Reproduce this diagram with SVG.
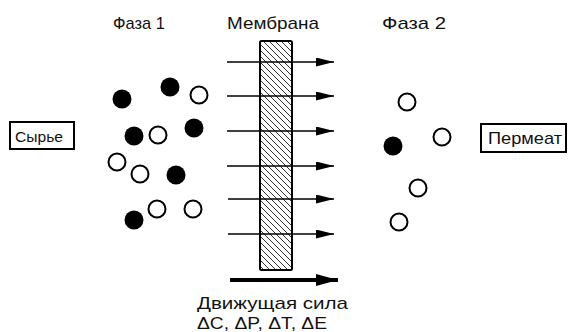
<svg xmlns="http://www.w3.org/2000/svg" width="568" height="332" viewBox="0 0 568 332">
<style>
text{font-family:"Liberation Sans","DejaVu Sans",sans-serif;fill:#111}
.lbl{font-size:17px}
.f{fill:#000}
.o{fill:#fff;stroke:#000;stroke-width:2}
.box{fill:#fff;stroke:#000;stroke-width:2}
.ar{stroke:#000;stroke-width:1.5;fill:none}
</style>
<defs>
<pattern id="hatch" patternUnits="userSpaceOnUse" width="6" height="6">
<path d="M-1,-1 L7,7 M-1,5 L1,7 M5,-1 L7,1" stroke="#333" stroke-width="1"/>
</pattern>
<marker id="ah" viewBox="0 0 18 9" refX="18" refY="4.5" markerWidth="18" markerHeight="9" markerUnits="userSpaceOnUse" orient="auto">
<path d="M0,0 L18,4.5 L0,9 Z" fill="#000"/>
</marker>
<marker id="ahb" viewBox="0 0 22 12" refX="22" refY="6" markerWidth="22" markerHeight="12" markerUnits="userSpaceOnUse" orient="auto">
<path d="M0,0 L22,6 L0,12 Z" fill="#000"/>
</marker>
</defs>
<rect width="568" height="332" fill="#fff"/>
<g id="titles">
<text class="lbl" x="113" y="29" textLength="52" lengthAdjust="spacingAndGlyphs">Фаза 1</text>
<text class="lbl" x="227" y="29" textLength="92" lengthAdjust="spacingAndGlyphs">Мембрана</text>
<text class="lbl" x="382" y="29" textLength="64" lengthAdjust="spacingAndGlyphs">Фаза 2</text>
</g>
<g id="membrane">
<rect x="260" y="41" width="32" height="229" rx="1.5" fill="url(#hatch)" stroke="#000" stroke-width="2"/>
</g>
<g id="connectors">
<line class="ar" x1="227" y1="62" x2="334" y2="62" marker-end="url(#ah)"/>
<line class="ar" x1="227" y1="96" x2="334" y2="96" marker-end="url(#ah)"/>
<line class="ar" x1="227" y1="131" x2="334" y2="131" marker-end="url(#ah)"/>
<line class="ar" x1="227" y1="166" x2="334" y2="166" marker-end="url(#ah)"/>
<line class="ar" x1="228" y1="199" x2="334" y2="199" marker-end="url(#ah)"/>
<line class="ar" x1="228" y1="234" x2="334" y2="234" marker-end="url(#ah)"/>
<line x1="230" y1="280" x2="338" y2="280" stroke="#000" stroke-width="4" marker-end="url(#ahb)"/>
</g>
<g id="phase1">
<circle class="f" cx="122" cy="99" r="9.5"/>
<circle class="f" cx="170" cy="87" r="9.5"/>
<circle class="o" cx="199" cy="95" r="8.5"/>
<circle class="f" cx="134" cy="136" r="9.5"/>
<circle class="o" cx="158" cy="135" r="8.5"/>
<circle class="f" cx="194" cy="128" r="9.5"/>
<circle class="o" cx="117" cy="162" r="8.5"/>
<circle class="o" cx="140" cy="174" r="8.5"/>
<circle class="f" cx="176" cy="175" r="9.5"/>
<circle class="o" cx="157" cy="209" r="8.5"/>
<circle class="o" cx="193" cy="209" r="8.5"/>
<circle class="f" cx="134" cy="220" r="9.5"/>
</g>
<g id="phase2">
<circle class="o" cx="407" cy="102" r="8.5"/>
<circle class="o" cx="442" cy="137" r="8.5"/>
<circle class="f" cx="393" cy="146" r="9.5"/>
<circle class="o" cx="418" cy="188" r="8.5"/>
<circle class="o" cx="399" cy="222" r="8.5"/>
</g>
<g id="feed">
<rect class="box" x="10" y="122" width="64" height="27"/>
<text x="15" y="142" font-size="14" textLength="48" lengthAdjust="spacingAndGlyphs">Сырье</text>
</g>
<g id="permeate">
<rect class="box" x="481" y="124" width="85" height="28"/>
<text x="488" y="144" font-size="17" textLength="74" lengthAdjust="spacingAndGlyphs">Пермеат</text>
</g>
<g id="driving-force">
<text x="197" y="309" font-size="17" textLength="151" lengthAdjust="spacingAndGlyphs">Движущая сила</text>
<text x="197" y="329" font-size="16" textLength="130" lengthAdjust="spacingAndGlyphs">ΔC, ΔP, ΔT, ΔE</text>
</g>
</svg>
